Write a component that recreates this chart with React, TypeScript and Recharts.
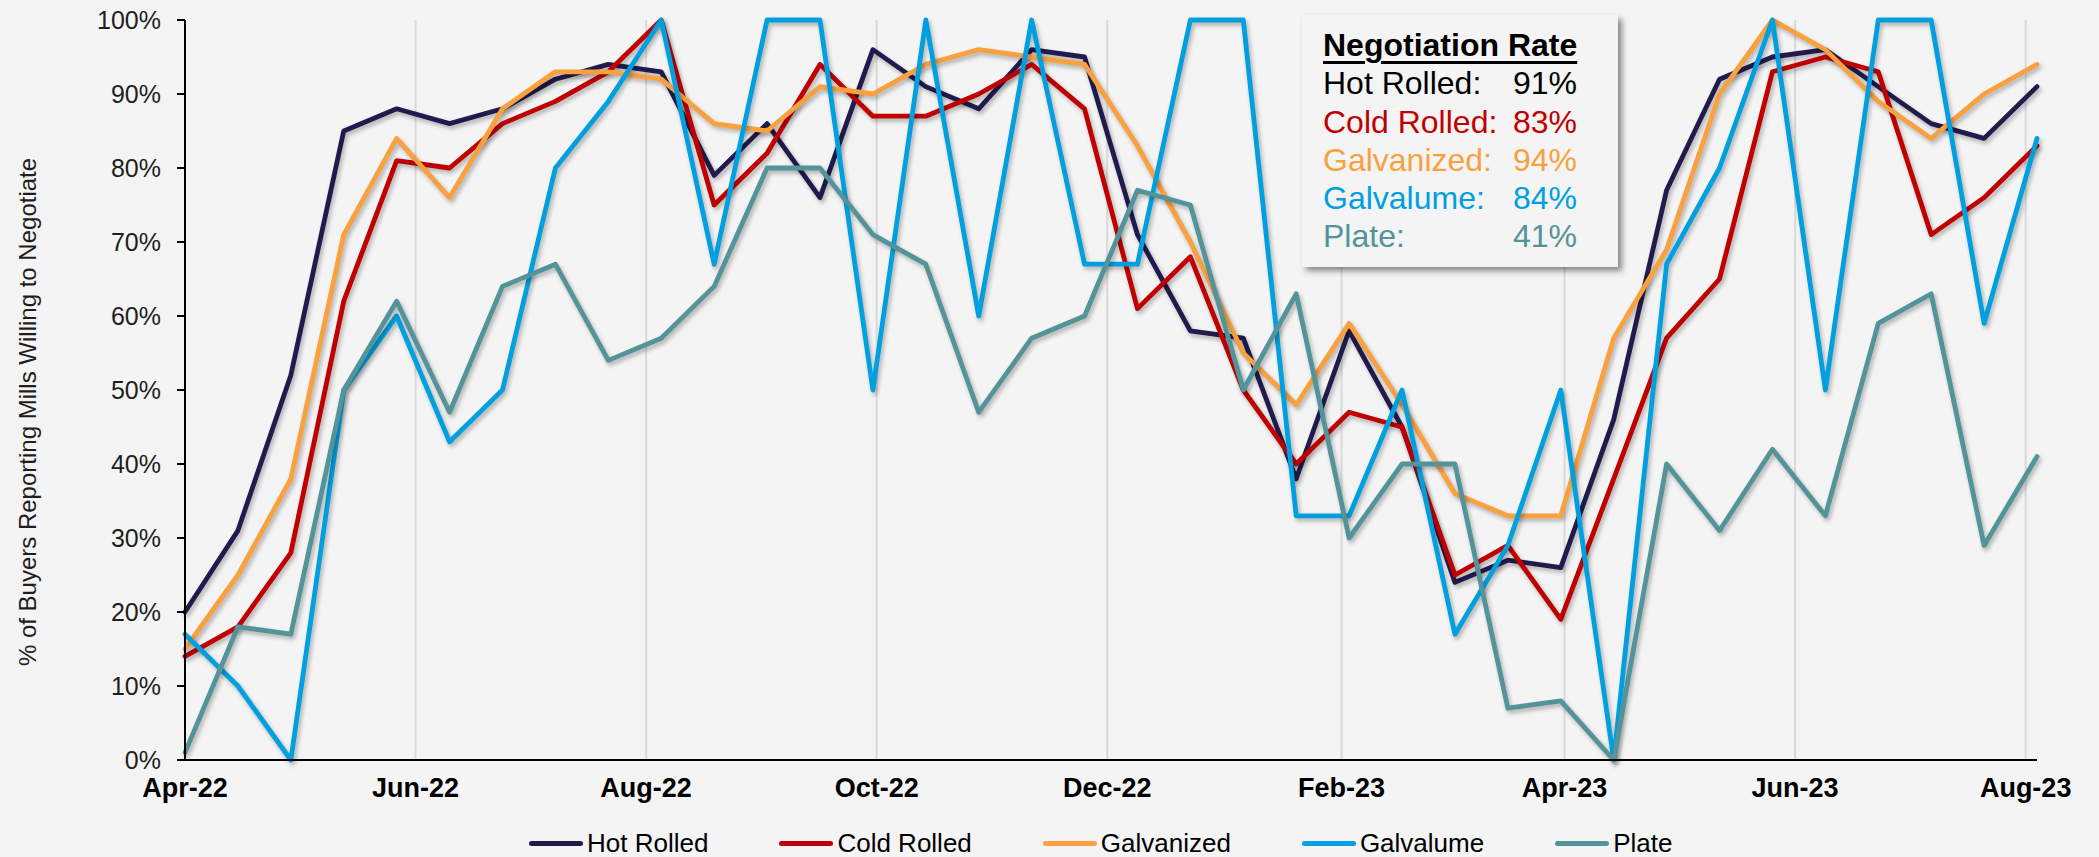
import React from 'react';
import { LineChart, Line, XAxis, YAxis, CartesianGrid } from 'recharts';

const dates = [
  '2022-04-01', '2022-04-15', '2022-04-29', '2022-05-13', '2022-05-27', '2022-06-10',
  '2022-06-24', '2022-07-08', '2022-07-22', '2022-08-05', '2022-08-19', '2022-09-02',
  '2022-09-16', '2022-09-30', '2022-10-14', '2022-10-28', '2022-11-11', '2022-11-25',
  '2022-12-09', '2022-12-23', '2023-01-06', '2023-01-20', '2023-02-03', '2023-02-17',
  '2023-03-03', '2023-03-17', '2023-03-31', '2023-04-14', '2023-04-28', '2023-05-12',
  '2023-05-26', '2023-06-09', '2023-06-23', '2023-07-07', '2023-07-21', '2023-08-04',
];

const hotRolled = [20, 31, 52, 85, 88, 86, 88, 92, 94, 93, 79, 86, 76, 96, 91, 88, 96, 95, 71, 58, 57, 38, 58, 45, 24, 27, 26, 46, 77, 92, 95, 96, 91, 86, 84, 91];
const coldRolled = [14, 18, 28, 62, 81, 80, 86, 89, 93, 100, 75, 82, 94, 87, 87, 90, 94, 88, 61, 68, 50, 40, 47, 45, 25, 29, 19, 38, 57, 65, 93, 95, 93, 71, 76, 83];
const galvanized = [15, 25, 38, 71, 84, 76, 88, 93, 93, 92, 86, 85, 91, 90, 94, 96, 95, 94, 83, 70, 55, 48, 59, 48, 36, 33, 33, 57, 69, 90, 100, 96, 89, 84, 90, 94];
const galvalume = [17, 10, 0, 50, 60, 43, 50, 80, 89, 100, 67, 100, 100, 50, 100, 60, 100, 67, 67, 100, 100, 33, 33, 50, 17, 29, 50, 0, 67, 80, 100, 50, 100, 100, 59, 84];
const plate = [1, 18, 17, 50, 62, 47, 64, 67, 54, 57, 64, 80, 80, 71, 67, 47, 57, 60, 77, 75, 50, 63, 30, 40, 40, 7, 8, 0, 40, 31, 42, 33, 59, 63, 29, 41];

const tickDates = ['2022-04-01', '2022-06-01', '2022-08-01', '2022-10-01', '2022-12-01', '2023-02-01', '2023-04-01', '2023-06-01', '2023-08-01'];
const yTicks = [0, 10, 20, 30, 40, 50, 60, 70, 80, 90, 100];

const seriesKeys = ['hot', 'cold', 'galv', 'galvalume', 'plate'];
const seriesNames = ['Hot Rolled', 'Cold Rolled', 'Galvanized', 'Galvalume', 'Plate'];
const seriesColors = ['#211B4D', '#C00000', '#F9A03F', '#00A0E0', '#53939A'];
const boxLabelColors = ['#000000', '#C00000', '#F9A03F', '#00A0E0', '#53939A'];
const latestRates = [91, 83, 94, 84, 41];

const MONTHS = ['Jan', 'Feb', 'Mar', 'Apr', 'May', 'Jun', 'Jul', 'Aug', 'Sep', 'Oct', 'Nov', 'Dec'];
const DAY = 86400000;
const toDay = (s: string) => Date.parse(s + 'T00:00:00Z') / DAY;
const fmtDay = (d: number) => {
  const dt = new Date(d * DAY);
  return MONTHS[dt.getUTCMonth()] + '-' + String(dt.getUTCFullYear()).slice(2);
};

const seriesValues = [hotRolled, coldRolled, galvanized, galvalume, plate];
const data = dates.map((d, i) => {
  const row: Record<string, number> = { t: toDay(d) };
  seriesKeys.forEach((k, j) => {
    row[k] = seriesValues[j][i];
  });
  return row;
});
const tickDays = tickDates.map(toDay);
const FONT = '"Liberation Sans", Arial, Helvetica, sans-serif';

export default function App() {
  return (
    <div
      style={{
        position: 'absolute',
        left: 0,
        top: 0,
        width: 2099,
        height: 857,
        background: '#F4F4F4',
        overflow: 'hidden',
        fontFamily: FONT,
      }}
    >
      <style>{`.recharts-line-curve{filter: drop-shadow(2px 3px 2px rgba(0,0,0,0.28));}`}</style>
      <div style={{ position: 'absolute', left: 0, top: 0 }}>
        <LineChart
          width={2099}
          height={857}
          data={data}
          margin={{ top: 20, right: 62, left: 0, bottom: 47 }}
        >
          <CartesianGrid horizontal={false} vertical={true} syncWithTicks={true} stroke="#D9D9D9" strokeWidth={2} />
          <XAxis
            type="number"
            dataKey="t"
            domain={[tickDays[0], data[data.length - 1].t]}
            ticks={tickDays}
            interval={0}
            tickFormatter={fmtDay}
            tickLine={false}
            tickMargin={12}
            height={50}
            axisLine={{ stroke: '#000', strokeWidth: 2 }}
            tick={{ fontSize: 27, fontWeight: 700, fill: '#000', fontFamily: FONT }}
          />
          <YAxis
            type="number"
            domain={[0, 100]}
            ticks={yTicks}
            interval={0}
            width={185}
            tickSize={8}
            tickMargin={16}
            tickFormatter={(v: number) => `${v}%`}
            axisLine={{ stroke: '#000', strokeWidth: 2 }}
            tickLine={{ stroke: '#000', strokeWidth: 2 }}
            tick={{ fontSize: 25, fill: '#1E1E1E', fontFamily: FONT }}
          />
          {seriesKeys.map((k, j) => (
            <Line
              key={k}
              type="linear"
              dataKey={k}
              name={seriesNames[j]}
              stroke={seriesColors[j]}
              strokeWidth={4.8}
              strokeLinejoin="round"
              strokeLinecap="round"
              dot={false}
              activeDot={false}
              isAnimationActive={false}
            />
          ))}
        </LineChart>
      </div>

      {/* Y axis title */}
      <div
        style={{
          position: 'absolute',
          left: 28,
          top: 412,
          transform: 'translate(-50%, -50%) rotate(-90deg)',
          whiteSpace: 'nowrap',
          fontSize: 24,
          lineHeight: '24px',
          color: '#1E1E1E',
        }}
      >
        % of Buyers Reporting Mills Willing to Negotiate
      </div>

      {/* Negotiation Rate box */}
      <div
        style={{
          position: 'absolute',
          left: 1302,
          top: 15,
          width: 316,
          height: 252,
          background: '#F4F4F4',
          boxShadow: '4px 4px 6px rgba(0,0,0,0.45)',
          boxSizing: 'border-box',
          paddingTop: 11,
          paddingLeft: 21,
        }}
      >
        <div style={{ width: 254, fontSize: 32, lineHeight: '38.3px' }}>
          <div style={{ fontWeight: 700, textDecoration: 'underline', textDecorationThickness: 3, textUnderlineOffset: 5, whiteSpace: 'nowrap', color: '#000' }}>
            Negotiation Rate
          </div>
          {seriesNames.map((n, j) => (
            <div key={n} style={{ display: 'flex', justifyContent: 'space-between', color: boxLabelColors[j], whiteSpace: 'nowrap' }}>
              <span>{n}:</span>
              <span>{latestRates[j]}%</span>
            </div>
          ))}
        </div>
      </div>

      {/* Legend */}
      <div
        style={{
          position: 'absolute',
          left: 529,
          top: 830,
          height: 26,
          display: 'flex',
          alignItems: 'center',
          gap: 71,
          whiteSpace: 'nowrap',
        }}
      >
        {seriesNames.map((n, j) => (
          <div key={n} style={{ display: 'flex', alignItems: 'center' }}>
            <span
              style={{
                display: 'inline-block',
                width: 54,
                height: 5,
                borderRadius: 3,
                background: seriesColors[j],
                marginRight: 4,
              }}
            />
            <span style={{ fontSize: 26, lineHeight: '26px', color: '#000' }}>{n}</span>
          </div>
        ))}
      </div>
    </div>
  );
}
